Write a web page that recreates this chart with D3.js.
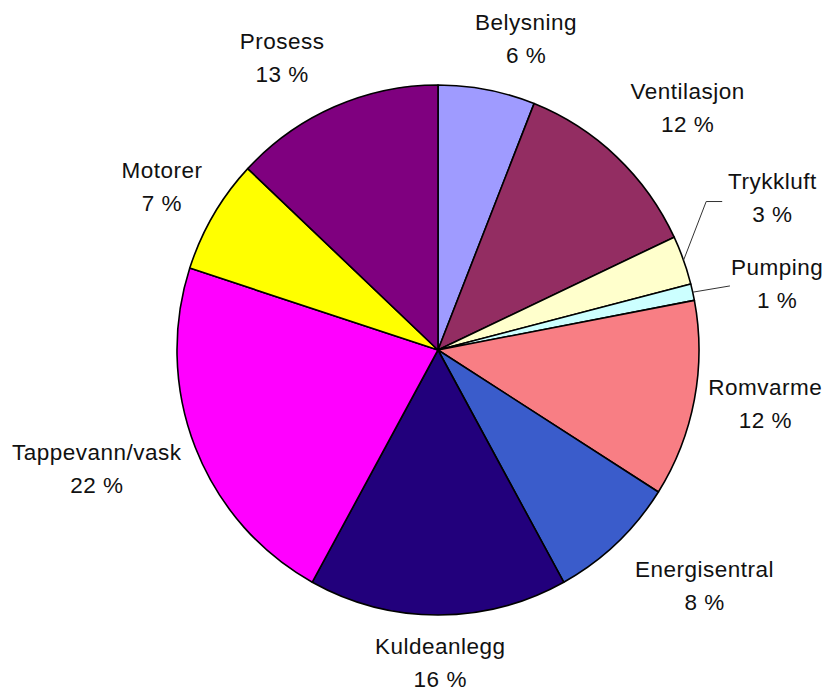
<!DOCTYPE html>
<html>
<head>
<meta charset="utf-8">
<script src="https://cdn.jsdelivr.net/npm/d3@7/dist/d3.min.js"></script>
<style>
  html, body { margin: 0; padding: 0; background: #fff; }
  svg { display: block; }
  text { font-family: "Liberation Sans", Arial, sans-serif; }
</style>
</head>
<body>
<svg id="chart" width="826" height="694"></svg>
<script>
// Energy use by purpose (share of total, %)
const categories = ["Belysning", "Ventilasjon", "Trykkluft", "Pumping", "Romvarme",
                    "Energisentral", "Kuldeanlegg", "Tappevann/vask", "Motorer", "Prosess"];
const shares = [6, 12, 3, 1, 12, 8, 16, 22, 7, 13];
const colors = ["#9f9bff", "#932d62", "#ffffcc", "#ccffff", "#f87e84",
                "#3a5ccb", "#22007c", "#ff00ff", "#ffff00", "#7f007f"];

// Layout
const W = 826, H = 694;
const cx = 438, cy = 350;
const rx = 261, ry = 265;          // pie is very slightly taller than wide
const labelR = 335;                // base radius for label anchors
const lineGap = 33;
// fine offsets for each label box relative to its anchor on labelR
const labelNudge = [[25, 26], [20, 10], [19, -31], [12, 15], [-2, -1],
                    [37, -1], [2, -15], [-30, 3], [12, 15], [-23, 23]];
// slices whose labels sit away from the pie get a leader line
const leader = { "Trykkluft": "elbow", "Pumping": "straight" };

const data = categories.map((c, i) => ({ name: c, value: shares[i], color: colors[i], i }));

const svg = d3.select("#chart");

const pie = d3.pie().sort(null).value(d => d.value).startAngle(0).endAngle(2 * Math.PI);
const arcs = pie(data);
const arc = d3.arc().innerRadius(0).outerRadius(rx);

const g = svg.append("g")
  .attr("transform", `translate(${cx},${cy}) scale(1,${ry / rx})`);

g.selectAll("path.slice")
  .data(arcs)
  .enter().append("path")
  .attr("class", "slice")
  .attr("d", arc)
  .attr("fill", d => d.data.color)
  .attr("stroke", "#000")
  .attr("stroke-width", 1.6)
  .attr("stroke-linejoin", "round")
  .attr("vector-effect", "non-scaling-stroke");

function mid(d) { return (d.startAngle + d.endAngle) / 2; }
function anchor(d) {
  const a = mid(d), n = labelNudge[d.data.i];
  return [cx + labelR * Math.sin(a) + n[0], cy - labelR * Math.cos(a) + n[1]];
}

// leader lines
arcs.forEach(d => {
  const kind = leader[d.data.name];
  if (!kind) return;
  const a = mid(d);
  const p0 = [cx + rx * Math.sin(a), cy - ry * Math.cos(a)];
  const [lx, ly] = anchor(d);
  let pts;
  if (kind === "elbow") {
    pts = [p0, [lx - 66, ly - 4], [lx - 50, ly - 4]];
  } else {
    pts = [p0, [lx - 47, ly - 6]];
  }
  svg.append("path")
    .attr("d", d3.line()(pts))
    .attr("fill", "none")
    .attr("stroke", "#333")
    .attr("stroke-width", 1);
});

// labels
const labels = svg.selectAll("g.label")
  .data(arcs)
  .enter().append("g")
  .attr("class", "label")
  .attr("transform", d => `translate(${anchor(d)})`);

const fontSize = 22.5, tracking = 0.5;

labels.append("text")
  .attr("text-anchor", "middle")
  .attr("x", tracking / 2)
  .attr("y", -lineGap / 2)
  .attr("font-size", fontSize)
  .attr("letter-spacing", tracking)
  .attr("fill", "#111")
  .text(d => d.data.name);

labels.append("text")
  .attr("text-anchor", "middle")
  .attr("x", tracking / 2)
  .attr("y", lineGap / 2)
  .attr("font-size", fontSize)
  .attr("letter-spacing", tracking)
  .attr("fill", "#111")
  .text(d => `${d.data.value} %`);
</script>
</body>
</html>
